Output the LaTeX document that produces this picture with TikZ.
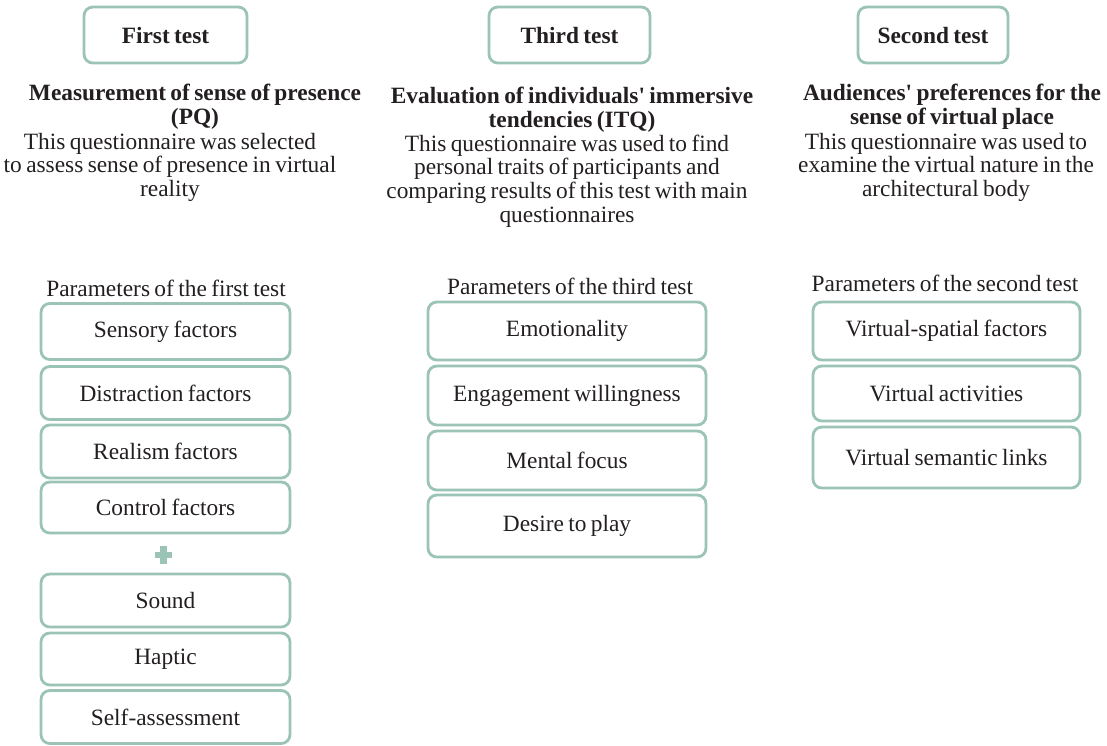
\documentclass[tikz,border=0pt]{standalone}
\usepackage{fontspec}
\setmainfont[WordSpace=0.75]{Liberation Serif}
\usepackage{tikz}
\definecolor{boxgreen}{HTML}{9BC4B7}
\definecolor{txtgray}{HTML}{231F20}

\begin{document}
\begin{tikzpicture}[x=0.02cm,y=-0.02cm,
                every node/.style={font=\fontsize{13.3}{13.4}\selectfont, text=txtgray},
                testbox/.style={draw=boxgreen, line width=1.6pt, rounded corners=5pt, minimum height=1.12cm, font=\fontsize{13.3}{13.4}\selectfont\bfseries},
                parambox/.style={draw=boxgreen, line width=1.6pt, rounded corners=5pt},
                headtext/.style={align=center, font=\fontsize{13.3}{13.4}\selectfont\bfseries},
                blurb/.style={align=center}]
                \useasboundingbox (0,0) rectangle (1107,745);
                % test titles
                \node [testbox, minimum width=3.26cm] (first) at (165.5,35) {First test};
                \node [testbox, minimum width=3.22cm] (third) at (569.5,35) {Third test};
                \node [testbox, minimum width=3.0cm] (second) at (933,35) {Second test};
                % first test
                \node [headtext] (firsthead) at (195,107) {Measurement of sense of presence\\(PQ)};
                \node [blurb] (firstdesc) at (170,167) {This questionnaire was selected\\to assess sense of presence in virtual\\reality};
                \node (firstpar) at (166,288) {Parameters of the first test};
                \node [parambox, minimum width=4.98cm, minimum height=1.12cm] (sensory) at (165.5,331.5) {Sensory factors};
                \node [parambox, minimum width=4.98cm, minimum height=1.06cm] (distraction) at (165.5,393) {Distraction factors};
                \node [parambox, minimum width=4.98cm, minimum height=1.06cm] (realism) at (165.5,451.5) {Realism factors};
                \node [parambox, minimum width=4.98cm, minimum height=1.02cm] (control) at (165.5,507.5) {Control factors};
                \fill [boxgreen] (160,546) rectangle (166.5,564);
                \fill [boxgreen] (154.5,551.8) rectangle (172,558.2);
                \node [parambox, minimum width=4.98cm, minimum height=1.06cm] (sound) at (165.5,600.5) {Sound};
                \node [parambox, minimum width=4.98cm, minimum height=1.04cm] (haptic) at (165.5,659) {Haptic};
                \node [parambox, minimum width=4.98cm, minimum height=1.06cm] (selfassess) at (165.5,717) {Self-assessment};
                % third test
                \node [headtext] (thirdhead) at (572,110) {Evaluation of individuals\textquotesingle{} immersive\\tendencies (ITQ)};
                \node [blurb] (thirddesc) at (567,181) {This questionnaire was used to find\\personal traits of participants and\\comparing results of this test with main\\questionnaires};
                \node (thirdpar) at (570,286) {Parameters of the third test};
                \node [parambox, minimum width=5.56cm, minimum height=1.16cm] (emotion) at (567,331) {Emotionality};
                \node [parambox, minimum width=5.56cm, minimum height=1.18cm] (engage) at (567,395.5) {Engagement willingness};
                \node [parambox, minimum width=5.56cm, minimum height=1.18cm] (mental) at (567,460.5) {Mental focus};
                \node [parambox, minimum width=5.56cm, minimum height=1.24cm] (desire) at (567,526) {Desire to play};
                % second test
                \node [headtext] (secondhead) at (952,107) {Audiences\textquotesingle{} preferences for the\\sense of virtual place};
                \node [blurb] (seconddesc) at (946,167) {This questionnaire was used to\\examine the virtual nature in the\\architectural body};
                \node (secondpar) at (945,283) {Parameters of the second test};
                \node [parambox, minimum width=5.34cm, minimum height=1.16cm] (spatial) at (946.5,331) {Virtual-spatial factors};
                \node [parambox, minimum width=5.34cm, minimum height=1.1cm] (activities) at (946.5,393.5) {Virtual activities};
                \node [parambox, minimum width=5.34cm, minimum height=1.22cm] (semantic) at (946.5,457.5) {Virtual semantic links};
            \end{tikzpicture}
\end{document}
